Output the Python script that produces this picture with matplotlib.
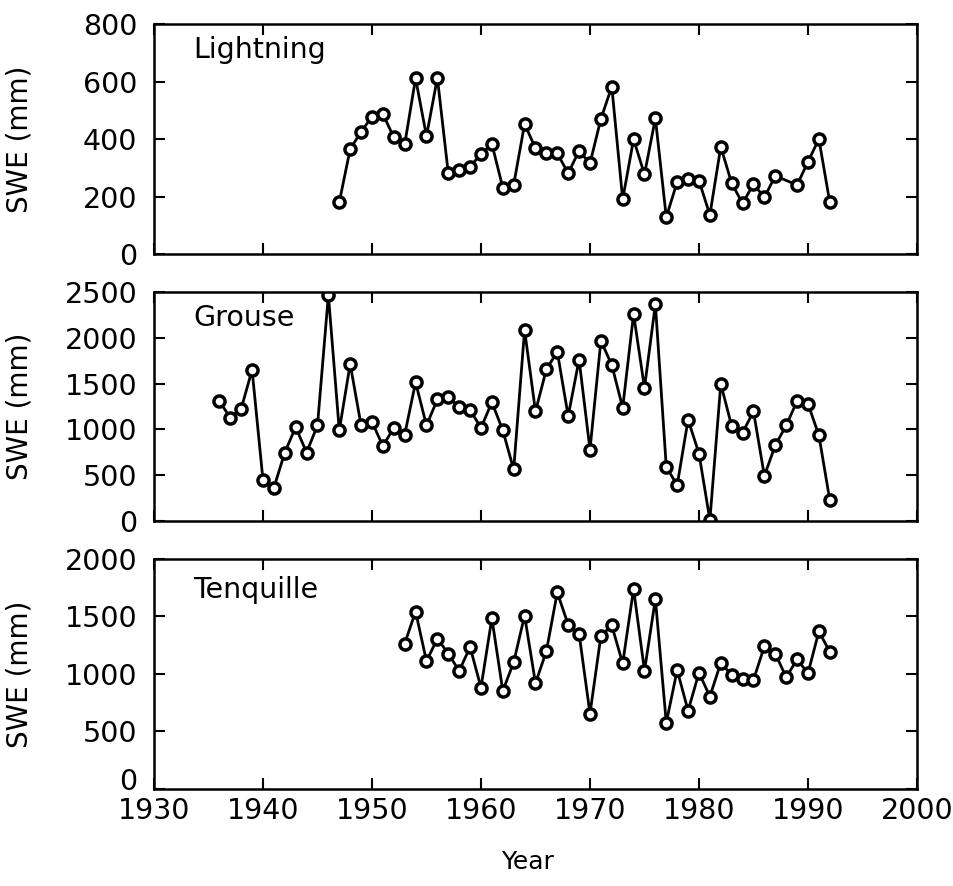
import numpy as np
import matplotlib
matplotlib.use('Agg')
import matplotlib.pyplot as plt
import matplotlib.transforms as mtransforms

plt.rcParams['font.family'] = 'DejaVu Sans'

# Lightning (no 1988 record)
years_l = list(range(1947, 1988)) + [1989, 1990, 1991, 1992]
swe_l = [180, 365, 425, 478, 487, 406, 381, 611, 410, 613,
         281, 292, 304, 348, 383, 231, 241, 452, 368, 350,
         350, 281, 359, 315, 470, 582, 190, 399, 277, 472,
         128, 251, 261, 255, 136, 373, 246, 176, 243, 197,
         272, 240, 321, 400, 180]

# Grouse
years_g = list(range(1936, 1993))
swe_g = [1308, 1127, 1225, 1649, 446, 362, 747, 1025, 747, 1043,
         2467, 989, 1714, 1043, 1080, 819, 1015, 942, 1514, 1043,
         1326, 1351, 1243, 1214, 1015, 1297, 989, 562, 2084, 1196,
         1655, 1848, 1145, 1761, 779, 1967, 1703, 1236, 2258, 1453,
         2366, 590, 391, 1105, 736, 10, 1497, 1036, 964, 1196,
         493, 826, 1043, 1308, 1279, 935, 228]

# Tenquille
years_t = list(range(1953, 1993))
swe_t = [1264, 1543, 1112, 1307, 1178, 1026, 1235, 882, 1485, 853,
         1101, 1508, 920, 1198, 1709, 1428, 1351, 655, 1330, 1422,
         1092, 1739, 1028, 1652, 575, 1034, 681, 1011, 804, 1097,
         991, 954, 948, 1241, 1178, 971, 1127, 1006, 1371, 1192]

sites = ['Lightning', 'Grouse', 'Tenquille']
ymax = [800, 2500, 2000]
ystep = [200, 500, 500]

fig = plt.figure(figsize=(9.54, 8.86), dpi=100)
boxes = [[0.1614, 0.7133, 0.7998, 0.2596],
         [0.1614, 0.4120, 0.7998, 0.2585],
         [0.1614, 0.1095, 0.7998, 0.2596]]
title_y = [0.887, 0.886, 0.865]
data = [(years_l, swe_l), (years_g, swe_g), (years_t, swe_t)]

for i in range(3):
    ax = fig.add_axes(boxes[i])
    x, y = data[i]
    ax.plot(x, y, '-o', color='black', lw=2, ms=8, mfc='white', mec='black', mew=2.5)
    ax.set_xlim(1930, 2000)
    ax.set_ylim(0, ymax[i])
    ax.set_xticks(np.arange(1930, 2001, 10))
    ax.set_yticks(np.arange(0, ymax[i] + 1, ystep[i]))
    ax.tick_params(direction='in', length=8, width=1.5, top=True, right=True,
                   labelsize=20.5)
    ax.tick_params(axis='y', pad=12)
    ax.tick_params(axis='x', pad=6)
    if i < 2:
        ax.tick_params(labelbottom=False)
    else:
        # lift the bottom "0" so it clears the year labels
        lab0 = ax.get_yticklabels()[0]
        lab0.set_transform(lab0.get_transform() +
                           mtransforms.ScaledTranslation(0, 7 / 72, fig.dpi_scale_trans))
    for s in ax.spines.values():
        s.set_linewidth(1.8)
    ax.set_ylabel('SWE (mm)', fontsize=20)
    ax.yaxis.set_label_coords(-0.158, 0.5)
    ax.text(0.051, title_y[i], sites[i], transform=ax.transAxes, fontsize=20.5,
            va='center', ha='left')

fig.text(0.553, 0.027, 'Year', fontsize=18, ha='center', va='center')

fig.savefig('out.png', dpi=100)
